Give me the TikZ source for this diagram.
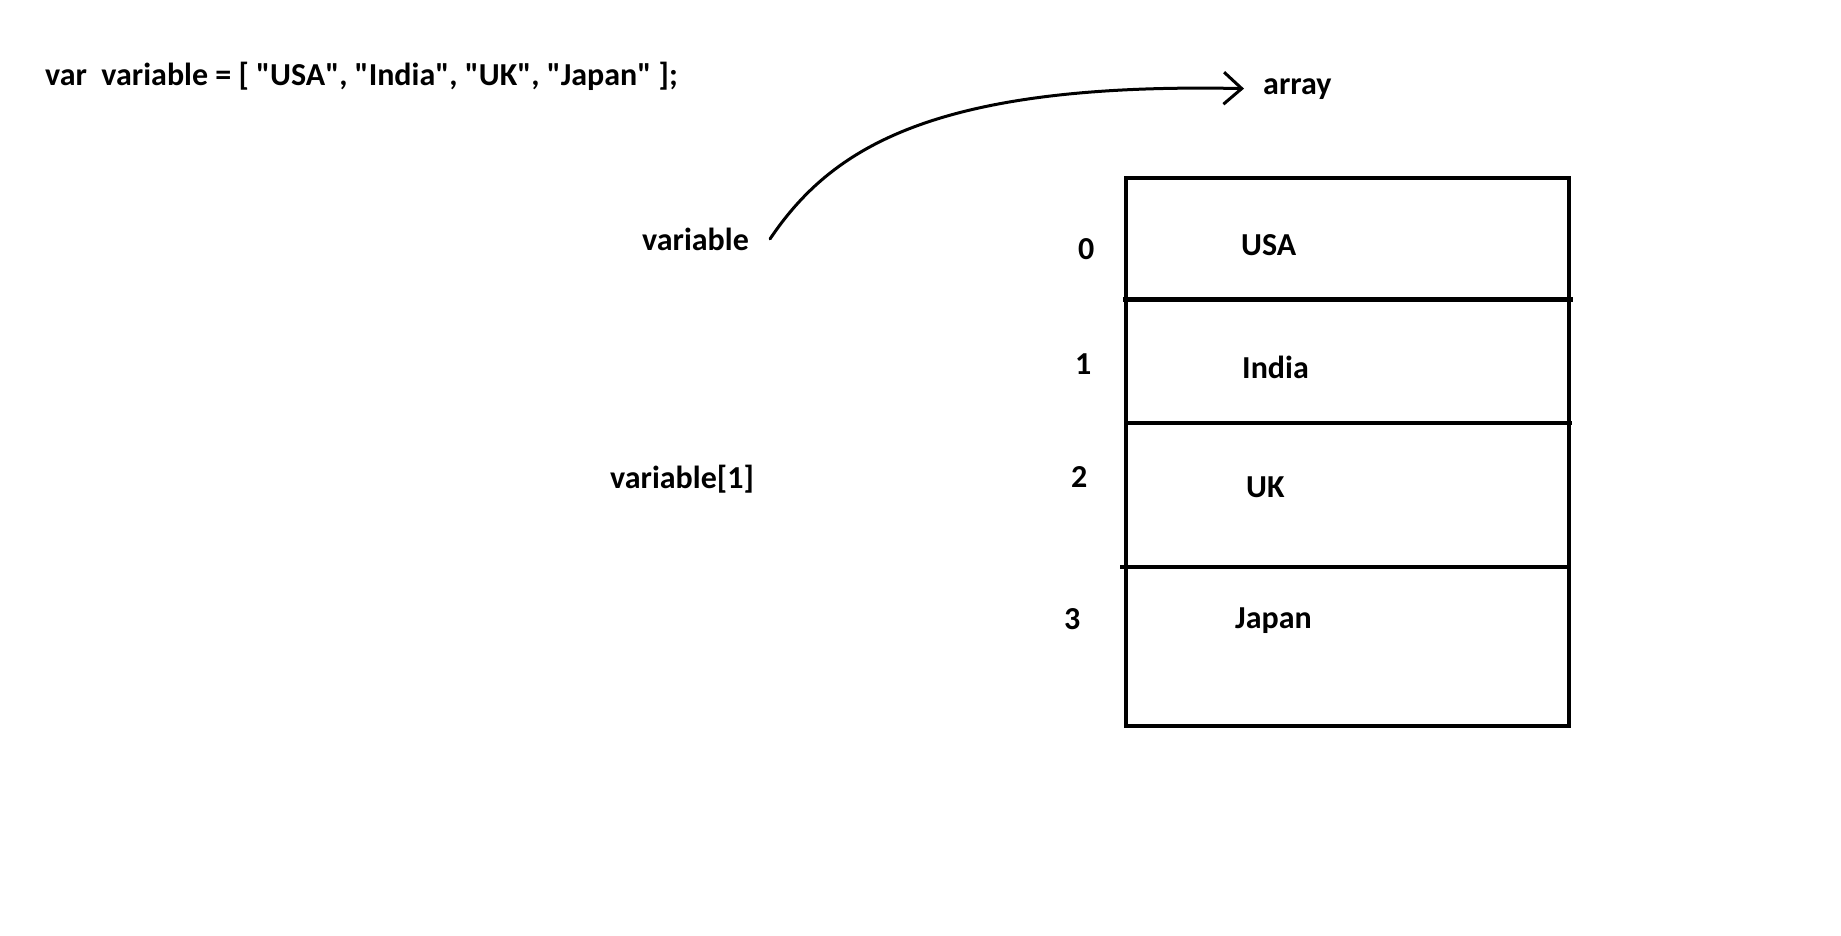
\documentclass[tikz,border=0pt]{standalone}
\usepackage{fontspec}
\newfontfamily\calib{Carlito}
\usetikzlibrary{arrows.meta}
\begin{document}
\begin{tikzpicture}[x=1pt,y=-1pt,
  txt/.style={font=\calib\fontsize{32}{38}\selectfont\bfseries, inner sep=0pt, anchor=base west},
  boxline/.style={line width=4.5pt},
  link/.style={line width=3pt, line cap=round, -{Straight Barb[length=18pt,width=32pt]}}]
\useasboundingbox[fill=white] (0,0) rectangle (1841,935);

% code line
\node[txt] (code) at (45,85) {var\ \ variable = [ "USA", "India", "UK", "Japan" ];};

% labels
\node[txt] (arr) at (1263,94) {array};
\node[txt] (vlab) at (642,250) {variable};
\node[txt] (vone) at (610,488) {variable[1]};

% array box
\draw[boxline] (1126,178) rectangle (1569,726);
\draw[boxline] (1123,299.5) -- (1573,299.5);
\draw[boxline] (1126,423) -- (1572,423);
\draw[boxline] (1120,567) -- (1571,567);

% indices
\node[txt] (i0) at (1078,259) {0};
\node[txt] (i1) at (1075,374) {1};
\node[txt] (i2) at (1071,487) {2};
\node[txt] (i3) at (1064,629) {3};

% values
\node[txt] (v0) at (1241,255) {USA};
\node[txt] (v1) at (1242,378) {India};
\node[txt] (v2) at (1246,497) {UK};
\node[txt] (v3) at (1235,628) {Japan};

% pointer
\draw[link] ([xshift=21pt]vlab.east) .. controls (830,150) and (930,82) .. ([xshift=-19pt]arr.west);
\end{tikzpicture}
\end{document}
